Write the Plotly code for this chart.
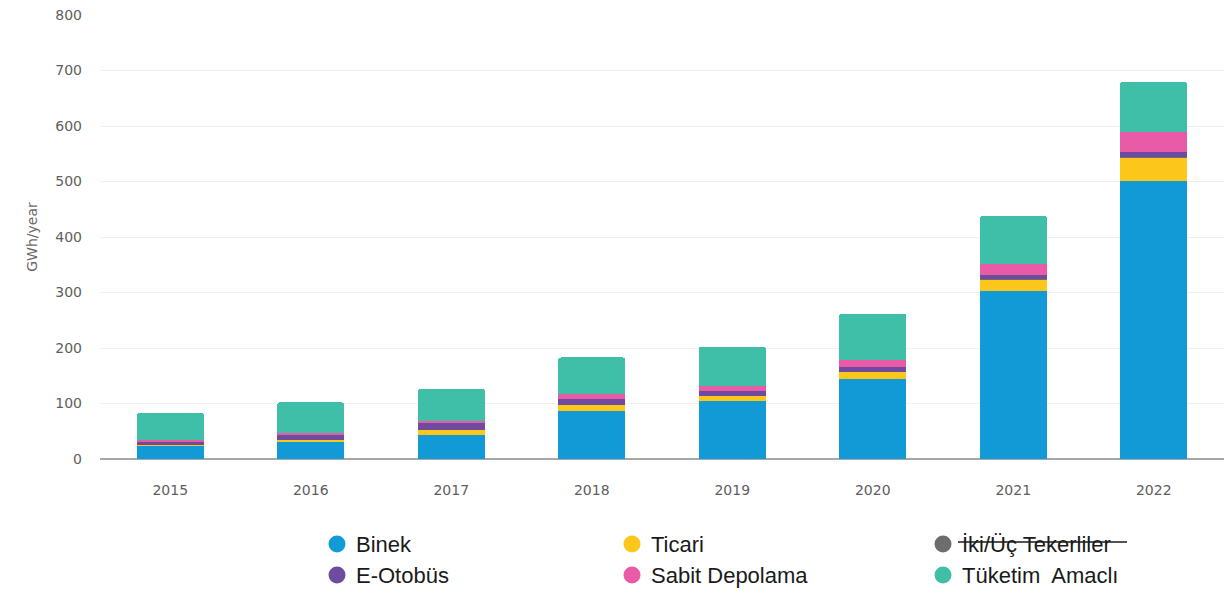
import plotly.graph_objects as go

# Yearly battery demand by segment (GWh/year)
years = ["2015", "2016", "2017", "2018", "2019", "2020", "2021", "2022"]
binek = [24, 30, 44, 86, 104, 145, 302, 501]
ticari = [1, 5, 8, 12, 10, 11, 21, 42]
iki_uc = [0, 0, 0, 0, 0, 0, 1, 2]
e_otobus = [7, 9, 14, 10, 8, 10, 7, 9]
sabit_depolama = [2, 3, 2, 10, 10, 12, 21, 35]
tuketim = [49, 55, 58, 65, 70, 84, 86, 90]

series_names = ["Binek", "Ticari", "İki/Üç Tekerliler", "E-Otobüs", "Sabit Depolama", "Tüketim  Amaclı"]
series_values = [binek, ticari, iki_uc, e_otobus, sabit_depolama, tuketim]
series_colors = ["#129ad7", "#fdc61a", "#6d6d6d", "#6e4b9e", "#e95ba6", "#3fbfa7"]

W, H = 1225, 594
M_L, M_R, M_T, M_B = 100, 1, 15, 135
PLOT_W = W - M_L - M_R
PLOT_H = H - M_T - M_B


def px_to_paper(px, py):
    return (px - M_L) / PLOT_W, (H - M_B - py) / PLOT_H


fig = go.Figure()
for name, vals, col in zip(series_names, series_values, series_colors):
    fig.add_trace(go.Bar(
        x=years, y=vals, name=name, marker=dict(color=col, line=dict(width=0)),
        showlegend=False,
    ))

axis_font = dict(family="'DejaVu Sans', sans-serif", size=14, color="#5e5e5e")

fig.update_layout(
    width=W, height=H,
    margin=dict(l=M_L, r=M_R, t=M_T, b=M_B),
    barmode="stack", bargap=0.52, barcornerradius=3,
    plot_bgcolor="white", paper_bgcolor="white",
    xaxis=dict(
        type="category", showgrid=False, tickfont=axis_font,
        ticklabelstandoff=21, showline=False, zeroline=False,
    ),
    yaxis=dict(
        range=[0, 800], dtick=100, tickfont=axis_font,
        gridcolor="#f0f0f0", gridwidth=1, ticklabelstandoff=17,
        zeroline=True, zerolinecolor="#a8a8a8", zerolinewidth=2,
        title=dict(text="GWh/year", font=dict(family="'DejaVu Sans', sans-serif", size=14, color="#6a6a6a"), standoff=14),
    ),
)

# Legend: three columns, two rows below the plot
legend_cols_x = [337, 632, 943]
legend_rows_y = [544, 575]
legend_order = [[0, 1, 2], [3, 4, 5]]
for r, row in enumerate(legend_order):
    for c, idx in enumerate(row):
        cx, cy = px_to_paper(legend_cols_x[c], legend_rows_y[r])
        fig.add_shape(
            type="circle", xref="paper", yref="paper",
            xsizemode="pixel", ysizemode="pixel",
            xanchor=cx, yanchor=cy, x0=-8.5, x1=8.5, y0=-8.5, y1=8.5,
            fillcolor=series_colors[idx], line=dict(width=0),
        )
        tx, _ = px_to_paper(legend_cols_x[c] + 17, 0)
        fig.add_annotation(
            xref="paper", yref="paper", x=tx, y=cy,
            xanchor="left", yanchor="middle", showarrow=False,
            text=series_names[idx],
            font=dict(family="'Liberation Sans', Arial, sans-serif", size=22, color="#1a1a1a"),
        )

# Struck-through entry
sx0, sy = px_to_paper(958, 542)
sx1, _ = px_to_paper(1127, 542)
fig.add_shape(
    type="line", xref="paper", yref="paper",
    x0=sx0, x1=sx1, y0=sy, y1=sy,
    line=dict(color="#1a1a1a", width=1.3),
)

fig.write_html("out.html")
